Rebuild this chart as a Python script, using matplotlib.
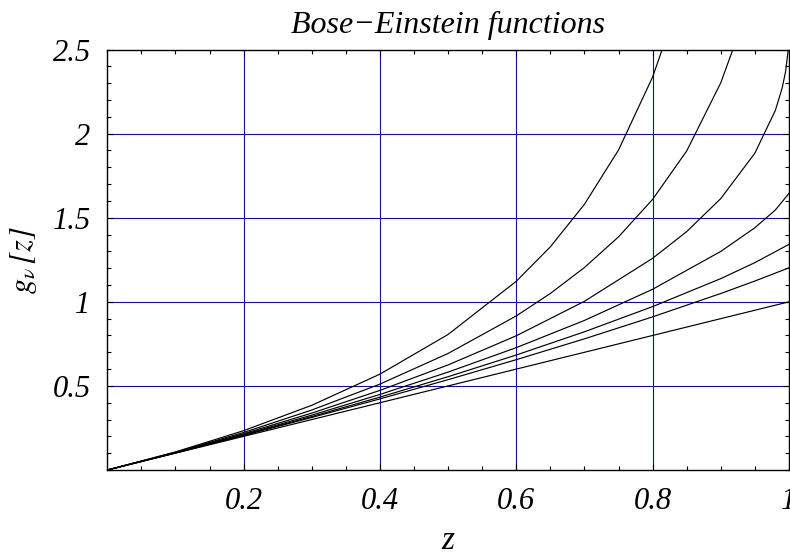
import numpy as np
import matplotlib
matplotlib.use("Agg")
import matplotlib.pyplot as plt
from matplotlib.ticker import MultipleLocator, FixedLocator

plt.rcParams['font.family'] = ['Liberation Serif', 'DejaVu Serif']
plt.rcParams['font.style'] = 'italic'
plt.rcParams['mathtext.fontset'] = 'stix'

# g_nu[z], one curve per nu
z_05 = [0, 0.1, 0.2, 0.3, 0.4, 0.5, 0.6, 0.65, 0.7, 0.75, 0.8, 0.82]
g_05 = [0, 0.1077, 0.2339, 0.3848, 0.5701, 0.8061, 1.1223, 1.327, 1.580, 1.903, 2.337, 2.57]

z_10 = [0, 0.1, 0.2, 0.3, 0.4, 0.5, 0.6, 0.65, 0.7, 0.75, 0.8, 0.85, 0.9, 0.92]
g_10 = [0, 0.1054, 0.2231, 0.3567, 0.5108, 0.6931, 0.9163, 1.0498, 1.2040, 1.3863, 1.6094, 1.8971, 2.3026, 2.5257]

z_15 = [0, 0.1, 0.2, 0.3, 0.4, 0.5, 0.6, 0.7, 0.8, 0.85, 0.9, 0.95, 0.98, 0.99, 0.995, 0.999, 1.0]
g_15 = [0, 0.1037, 0.2159, 0.3383, 0.4734, 0.6249, 0.7982, 1.0031, 1.2588, 1.4176, 1.614, 1.884, 2.138, 2.271, 2.368, 2.501, 2.612]

z_20 = [0, 0.1, 0.2, 0.3, 0.4, 0.5, 0.6, 0.7, 0.8, 0.9, 0.95, 0.98, 1.0]
g_20 = [0, 0.1026, 0.2110, 0.3261, 0.4493, 0.5822, 0.7276, 0.8894, 1.0748, 1.2997, 1.4406, 1.5458, 1.6449]

z_25 = [0, 0.1, 0.2, 0.3, 0.4, 0.5, 0.6, 0.7, 0.8, 0.9, 0.95, 1.0]
g_25 = [0, 0.1018, 0.2076, 0.3179, 0.4334, 0.5549, 0.6838, 0.8219, 0.9717, 1.138, 1.233, 1.3415]

z_30 = [0, 0.1, 0.2, 0.3, 0.4, 0.5, 0.6, 0.7, 0.8, 0.9, 0.95, 1.0]
g_30 = [0, 0.1013, 0.2053, 0.3124, 0.4229, 0.5372, 0.6560, 0.7800, 0.9106, 1.0497, 1.1236, 1.2021]

z_inf = [0, 1.0]
g_inf = [0, 1.0]

curves = [(z_05, g_05), (z_10, g_10), (z_15, g_15), (z_20, g_20),
          (z_25, g_25), (z_30, g_30), (z_inf, g_inf)]

xticks = [0.2, 0.4, 0.6, 0.8, 1.0]
xtick_labels = ['0.2', '0.4', '0.6', '0.8', '1']
yticks = [0.5, 1.0, 1.5, 2.0, 2.5]
ytick_labels = ['0.5', '1', '1.5', '2', '2.5']

fig = plt.figure(figsize=(7.9, 5.54), dpi=100)
ax = fig.add_axes([0.1358, 0.1516, 0.8629, 0.759])

# grid lines (Mathematica GridLines style)
for gx in xticks[:-1]:
    ax.axvline(gx, color='#10109a', lw=0.8, zorder=1)
for gy in yticks[:-1]:
    ax.axhline(gy, color='#10109a', lw=0.8, zorder=1)

for z, g in curves:
    ax.plot(z, g, color='black', lw=0.85, zorder=2)

ax.set_xlim(0, 1)
ax.set_ylim(0, 2.5)
ax.xaxis.set_major_locator(FixedLocator(xticks))
ax.yaxis.set_major_locator(FixedLocator(yticks))
ax.set_xticklabels(xtick_labels)
ax.set_yticklabels(ytick_labels)
ax.xaxis.set_minor_locator(MultipleLocator(0.05))
ax.yaxis.set_minor_locator(MultipleLocator(0.1))
ax.tick_params(which='both', direction='in', top=True, right=True,
               labelsize=22, width=0.8)
ax.tick_params(axis='x', which='major', pad=12, length=4)
ax.tick_params(axis='y', which='major', pad=12, length=4)
ax.tick_params(which='minor', length=2.7)
for s in ax.spines.values():
    s.set_linewidth(1.0)

ax.set_title('Bose\u2212Einstein functions', fontsize=23, pad=12)
ax.set_xlabel('z', fontsize=24, labelpad=7)
ax.set_ylabel(r'$g_{\nu}\,[z]$', fontsize=22, labelpad=10)

fig.savefig('out.png', dpi=100)
